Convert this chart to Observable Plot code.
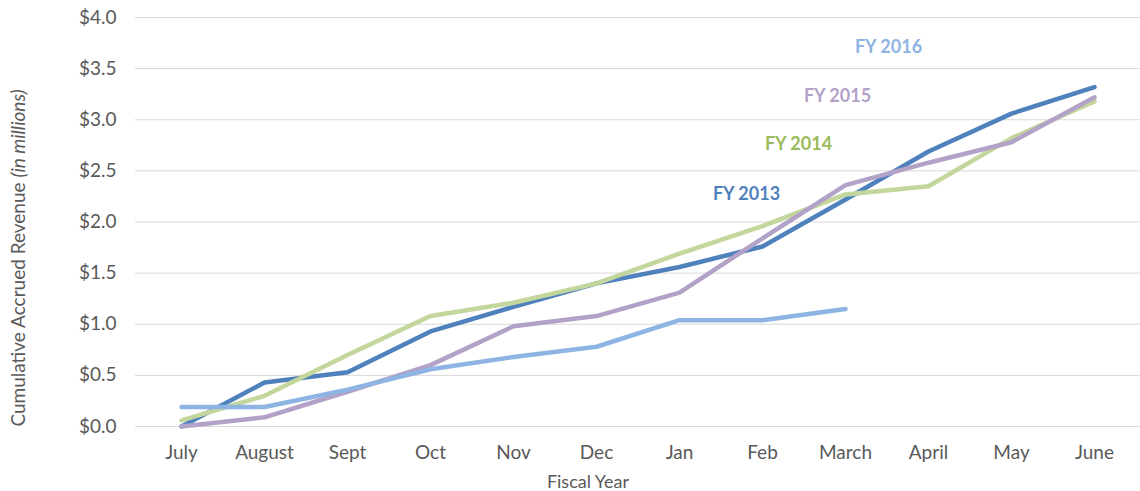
<!DOCTYPE html>
<html>
<head>
<meta charset="utf-8">
<script src="https://cdn.jsdelivr.net/npm/d3@7"></script>
<script src="https://cdn.jsdelivr.net/npm/@observablehq/plot@0.6"></script>
<style>
  html, body { margin: 0; padding: 0; background: #fff; overflow: hidden; }
  #chart svg { display: block; }
</style>
</head>
<body>
<div id="chart"></div>
<script>
const months = ["July","August","Sept","Oct","Nov","Dec","Jan","Feb","March","April","May","June"];
const fy2013 = [0.00, 0.43, 0.53, 0.93, 1.17, 1.40, 1.56, 1.76, 2.22, 2.69, 3.06, 3.32];
const fy2014 = [0.06, 0.30, 0.70, 1.08, 1.21, 1.40, 1.69, 1.96, 2.27, 2.35, 2.82, 3.18];
const fy2015 = [0.00, 0.09, 0.34, 0.60, 0.98, 1.08, 1.31, 1.84, 2.36, 2.58, 2.78, 3.22];
const fy2016 = [0.19, 0.19, 0.36, 0.56, 0.68, 0.78, 1.04, 1.04, 1.15];
const seriesNames = ["FY 2013", "FY 2014", "FY 2015", "FY 2016"];
const lineColors = ["#4F81BD", "#C3D69B", "#B3A2C7", "#8DB4E2"];
const labelColors = ["#4F81BD", "#9BBB59", "#B3A2C7", "#8DB4E2"];
const yTicks = [0, 0.5, 1, 1.5, 2, 2.5, 3, 3.5, 4];
// label anchors (month, value, pixel nudge)
const labelMonths = ["Feb", "March", "March", "April"];
const labelValues = [2.27, 2.76, 3.23, 3.71];
const labelDx = [-16, -47, -8, -40];

const allSeries = [fy2013, fy2014, fy2015, fy2016];
const rows = [];
allSeries.forEach((vals, si) => vals.forEach((v, i) => rows.push({series: seriesNames[si], month: months[i], value: v})));
const labels = seriesNames.map((s, i) => ({series: s, month: labelMonths[i], value: labelValues[i], dx: labelDx[i], color: labelColors[i]}));

const font = "Lato, 'Open Sans', sans-serif";
const chart = Plot.plot({
  width: 1140,
  height: 491,
  marginLeft: 135,
  marginRight: 0,
  marginTop: 17,
  marginBottom: 65,
  style: {fontFamily: font, fontSize: "19px", color: "#595959", background: "#fff"},
  x: {type: "point", domain: months, padding: 0.5, label: null},
  y: {domain: [0, 4], label: null},
  color: {domain: seriesNames, range: lineColors},
  marks: [
    Plot.gridY(yTicks, {stroke: "#d9d9d9", strokeOpacity: 1, strokeWidth: 1}),
    Plot.axisY(yTicks, {tickSize: 0, tickPadding: 19, tickFormat: d => "$" + d.toFixed(1), fontSize: 19, fill: "#595959"}),
    Plot.axisX({tickSize: 0, tickPadding: 19, fontSize: 19, fill: "#595959"}),
    Plot.line(rows, {x: "month", y: "value", z: "series", stroke: "series", strokeWidth: 4.5, strokeLinejoin: "round", strokeLinecap: "round"}),
    ...labels.map(l => Plot.text([l], {x: "month", y: "value", text: "series", dx: l.dx, fill: l.color, fontWeight: "bold", fontSize: 18}))
  ]
});
document.getElementById("chart").appendChild(chart);

const svg = d3.select(chart);
svg.append("text")
  .attr("transform", "translate(25,258) rotate(-90)")
  .attr("text-anchor", "middle")
  .attr("fill", "#595959")
  .style("font-family", font)
  .style("font-size", "19px")
  .call(t => {
    t.append("tspan").text("Cumulative Accrued Revenue ");
    t.append("tspan").style("font-style", "italic").text("(in millions)");
  });
svg.append("text")
  .attr("x", 588)
  .attr("y", 488)
  .attr("text-anchor", "middle")
  .attr("fill", "#595959")
  .style("font-family", font)
  .style("font-size", "18px")
  .text("Fiscal Year");
</script>
</body>
</html>
